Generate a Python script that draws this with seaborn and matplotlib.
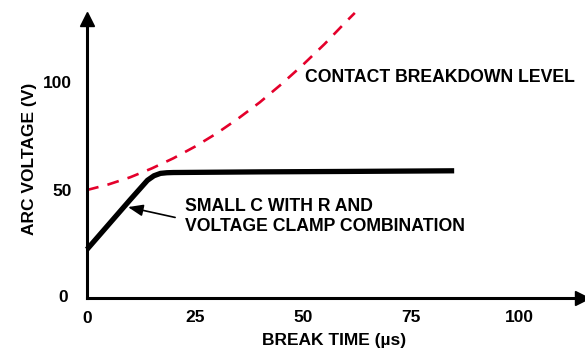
import matplotlib
matplotlib.use("Agg")
import matplotlib.pyplot as plt
import seaborn as sns
import pandas as pd

# ---- data ----
clamp_time = [0, 5, 10, 14, 15.5, 17, 18.5, 20, 40, 60, 85]
clamp_volt = [22.5, 34, 45.5, 54.5, 56.6, 57.7, 58.0, 58.1, 58.4, 58.6, 58.9]

breakdown_time = [0, 5, 10, 15, 20, 25, 30, 35, 40, 45, 50, 55, 60, 62]
breakdown_volt = [50, 52.6, 55.9, 60.0, 64.7, 70.1, 76.2, 83.1, 90.6, 99.0, 108.0, 117.6, 128.0, 132.0]

x_ticks = [25, 50, 75, 100]
y_ticks = [50, 100]

sns.set_style("white")
plt.rcParams["font.family"] = ["Liberation Sans", "DejaVu Sans"]
plt.rcParams["font.weight"] = "bold"
plt.rcParams["text.color"] = "black"
plt.rcParams["axes.labelcolor"] = "black"
plt.rcParams["xtick.color"] = "black"
plt.rcParams["ytick.color"] = "black"

clamp_df = pd.DataFrame({"t": clamp_time, "v": clamp_volt})
brk_df = pd.DataFrame({"t": breakdown_time, "v": breakdown_volt})

fig = plt.figure(figsize=(5.85, 3.54), dpi=100)
ax = fig.add_axes([0.1487, 0.1582, 0.8455, 0.787])

sns.lineplot(data=brk_df, x="t", y="v", ax=ax, color="#e4002b", lw=1.9,
             dashes=False, linestyle=(0, (4.5, 3.5)), sort=False)
sns.lineplot(data=clamp_df, x="t", y="v", ax=ax, color="black", lw=3.8,
             sort=False, solid_capstyle="butt", solid_joinstyle="round")
for ln in ax.lines:
    ln.set_clip_on(False)

ax.set_xlim(0, 114.5)
ax.set_ylim(0, 129)

for s in ["top", "right"]:
    ax.spines[s].set_visible(False)
for s in ["left", "bottom"]:
    ax.spines[s].set_linewidth(2.2)
    ax.spines[s].set_color("black")

ax.set_xticks(x_ticks)
ax.set_yticks(y_ticks)
ax.tick_params(axis="x", direction="inout", length=9, width=1.3, pad=4,
               labelsize=12.5, colors="black")
ax.tick_params(axis="y", direction="out", length=7, width=1.3, pad=4,
               labelsize=12.5, colors="black")
for lab in ax.get_xticklabels() + ax.get_yticklabels():
    lab.set_fontweight("bold")

# zero labels
ax.text(0, -0.045, "0", transform=ax.transAxes, ha="center", va="top",
        fontsize=12.5, fontweight="bold", color="black")
ax.text(-0.038, 0, "0", transform=ax.transAxes, ha="right", va="center",
        fontsize=12.5, fontweight="bold", color="black")

# arrow heads
ax.plot(1, 0, marker=">", color="black", ms=10, transform=ax.transAxes, clip_on=False)
ax.plot(0, 1, marker="^", color="black", ms=10, transform=ax.transAxes, clip_on=False)

ax.set_xlabel("BREAK TIME (µs)", fontsize=12.5, fontweight="bold", labelpad=6,
              color="black")
ax.set_ylabel("ARC VOLTAGE (V)", fontsize=12.5, fontweight="bold", labelpad=4,
              color="black")

ax.text(50.5, 101.9, "CONTACT BREAKDOWN LEVEL", fontsize=12.7, fontweight="bold",
        ha="left", va="center", color="black")
ax.text(22.7, 37.7, "SMALL C WITH R AND\nVOLTAGE CLAMP COMBINATION",
        fontsize=12.7, fontweight="bold", ha="left", va="center",
        linespacing=1.2, color="black")
ax.annotate("", xy=(9.5, 42.1), xytext=(20.4, 37.3),
            arrowprops=dict(arrowstyle="-|>,head_length=0.9,head_width=0.35",
                            color="black", lw=1.2, shrinkA=0, shrinkB=0))

ax.set_facecolor("white")
fig.savefig("out.png", dpi=100, facecolor="white")
